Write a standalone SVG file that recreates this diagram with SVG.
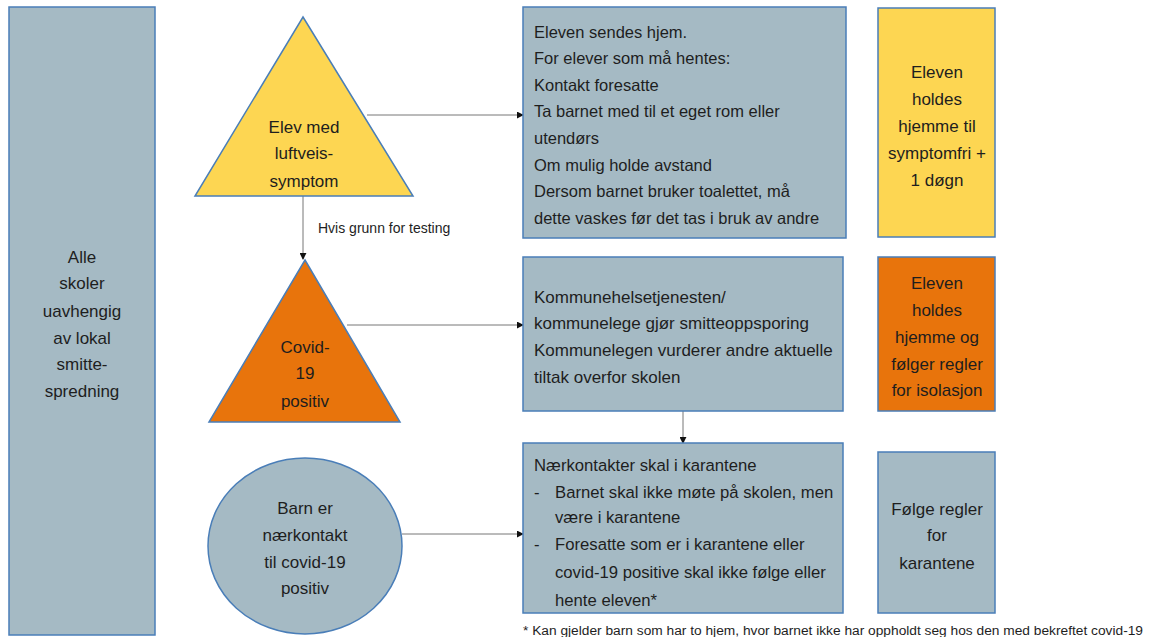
<svg xmlns="http://www.w3.org/2000/svg" width="1151" height="637" viewBox="0 0 1151 637">
<defs>
<marker id="ah" viewBox="0 0 8 8" refX="7" refY="4" markerWidth="7" markerHeight="7" markerUnits="userSpaceOnUse" orient="auto">
<path d="M0,0 L8,4 L0,8 z" fill="#111"/>
</marker>
<style>
.gb{fill:#A5BAC4;stroke:#4A7EB8;stroke-width:1.5}
.ye{fill:#FDD652;stroke:#4A7EB8;stroke-width:1.5}
.or{fill:#E8740C;stroke:#4A7EB8;stroke-width:1.5}
text{font-family:"Liberation Sans",Arial,sans-serif;fill:#1E1E1E;font-size:16.5px}
.c{text-anchor:middle;font-size:17px}
.b3{font-size:17px}
.b5{font-size:16.7px}
.lbl{font-size:14px}
.fn{font-size:12px}
.conn{stroke:#777;stroke-width:1;fill:none;marker-end:url(#ah)}
</style>
</defs>
<rect width="1151" height="637" fill="#fff"/>
<g id="left">
<rect class="gb" x="9" y="7" width="146" height="628"/>
<text class="c" x="82" y="263">Alle</text>
<text class="c" x="82" y="289">skoler</text>
<text class="c" x="82" y="317">uavhengig</text>
<text class="c" x="82" y="344">av lokal</text>
<text class="c" x="82" y="370">smitte-</text>
<text class="c" x="82" y="397">spredning</text>
</g>
<g id="connectors">
<line class="conn" x1="367" y1="115" x2="523" y2="115"/>
<line class="conn" x1="303" y1="196" x2="303" y2="259"/>
<line class="conn" x1="347" y1="325" x2="523" y2="325"/>
<line class="conn" x1="402" y1="534" x2="523" y2="534"/>
<line class="conn" x1="683" y1="411" x2="683" y2="443"/>
<text class="lbl" x="318" y="233">Hvis grunn for testing</text>
</g>
<g id="tri1">
<polygon class="ye" points="303,17 413,196 195,196"/>
<text class="c" x="304" y="133">Elev med</text>
<text class="c" x="304" y="159">luftveis-</text>
<text class="c" x="304" y="187">symptom</text>
</g>
<g id="tri2">
<polygon class="or" points="305,260 400,422 209,422"/>
<text class="c" x="305" y="353">Covid-</text>
<text class="c" x="305" y="379">19</text>
<text class="c" x="305" y="407">positiv</text>
</g>
<g id="circle">
<ellipse class="gb" cx="305" cy="546" rx="97" ry="88"/>
<text class="c" x="305" y="514">Barn er</text>
<text class="c" x="305" y="541">nærkontakt</text>
<text class="c" x="305" y="568">til covid-19</text>
<text class="c" x="305" y="594">positiv</text>
</g>
<g id="box1">
<rect class="gb" x="523" y="7" width="323" height="231"/>
<text x="534" y="38">Eleven sendes hjem.</text>
<text x="534" y="64">For elever som må hentes:</text>
<text x="534" y="91">Kontakt foresatte</text>
<text x="534" y="117">Ta barnet med til et eget rom eller</text>
<text x="534" y="144">utendørs</text>
<text x="534" y="171">Om mulig holde avstand</text>
<text x="534" y="197">Dersom barnet bruker toalettet, må</text>
<text x="534" y="224">dette vaskes før det tas i bruk av andre</text>
</g>
<g id="box2">
<rect class="ye" x="878" y="8" width="117" height="229"/>
<text class="c" x="937" y="78">Eleven</text>
<text class="c" x="937" y="105">holdes</text>
<text class="c" x="937" y="132">hjemme til</text>
<text class="c" x="937" y="159">symptomfri +</text>
<text class="c" x="937" y="186">1 døgn</text>
</g>
<g id="box3">
<rect class="gb" x="523" y="257" width="320" height="154"/>
<text class="b3" x="534" y="303">Kommunehelsetjenesten/</text>
<text class="b3" x="534" y="329">kommunelege gjør smitteoppsporing</text>
<text class="b3" x="534" y="356">Kommunelegen vurderer andre aktuelle</text>
<text class="b3" x="534" y="383">tiltak overfor skolen</text>
</g>
<g id="box4">
<rect class="or" x="878" y="257" width="117" height="154"/>
<text class="c" x="937" y="289">Eleven</text>
<text class="c" x="937" y="316">holdes</text>
<text class="c" x="937" y="343">hjemme og</text>
<text class="c" x="937" y="370">følger regler</text>
<text class="c" x="937" y="396">for isolasjon</text>
</g>
<g id="box5">
<rect class="gb" x="523" y="443" width="320" height="170"/>
<text class="b5" x="534" y="471">Nærkontakter skal i karantene</text>
<text class="b5" x="534" y="498">-</text>
<text class="b5" x="555" y="498">Barnet skal ikke møte på skolen, men</text>
<text class="b5" x="555" y="523">være i karantene</text>
<text class="b5" x="534" y="550">-</text>
<text class="b5" x="555" y="550">Foresatte som er i karantene eller</text>
<text class="b5" x="555" y="578">covid-19 positive skal ikke følge eller</text>
<text class="b5" x="555" y="606">hente eleven*</text>
</g>
<g id="box6">
<rect class="gb" x="878" y="452" width="117" height="161"/>
<text class="c" x="937" y="515">Følge regler</text>
<text class="c" x="937" y="541">for</text>
<text class="c" x="937" y="569">karantene</text>
</g>
<g id="footnote">
<text class="fn" x="523" y="635" textLength="620" lengthAdjust="spacingAndGlyphs">* Kan gjelder barn som har to hjem, hvor barnet ikke har oppholdt seg hos den med bekreftet covid-19</text>
</g>
</svg>
